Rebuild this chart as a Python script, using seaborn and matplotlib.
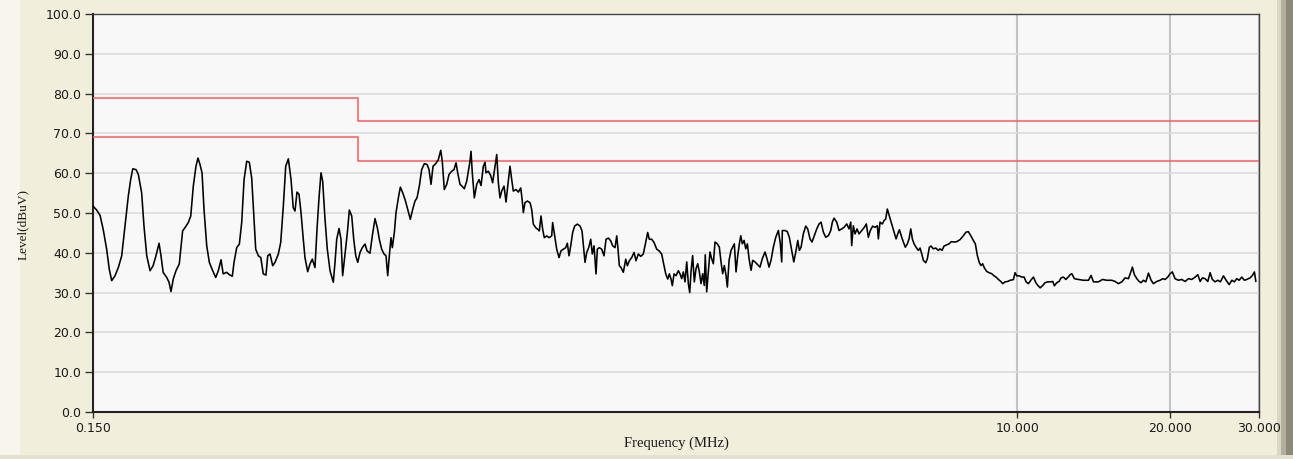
import matplotlib
matplotlib.use("Agg")
import matplotlib.pyplot as plt
import seaborn as sns
import pandas as pd
from matplotlib.patches import Rectangle

# ---------------- data ----------------
freq_mhz = [
    0.1500, 0.1525, 0.1549, 0.1571, 0.1596, 0.1615, 0.1633, 0.1658, 0.1683, 0.1709,
    0.1735, 0.1761, 0.1780, 0.1797, 0.1824, 0.1843, 0.1871, 0.1891, 0.1915, 0.1944,
    0.1971, 0.1997, 0.2025, 0.2043, 0.2063, 0.2097, 0.2119, 0.2138, 0.2160, 0.2187,
    0.2220, 0.2254, 0.2278, 0.2313, 0.2339, 0.2366, 0.2395, 0.2417, 0.2439, 0.2462,
    0.2484, 0.2515, 0.2545, 0.2584, 0.2620, 0.2651, 0.2684, 0.2710, 0.2754, 0.2787,
    0.2825, 0.2847, 0.2882, 0.2917, 0.2948, 0.2980, 0.3016, 0.3052, 0.3085, 0.3107,
    0.3142, 0.3180, 0.3215, 0.3252, 0.3292, 0.3318, 0.3353, 0.3394, 0.3430, 0.3482,
    0.3520, 0.3562, 0.3601,
    0.3644, 0.3689, 0.3726, 0.3756, 0.3790, 0.3825, 0.3860, 0.3900, 0.3930, 0.3979,
    0.4021, 0.4063, 0.4113, 0.4151, 0.4189, 0.4227, 0.4259, 0.4305, 0.4350, 0.4404,
    0.4470, 0.4505, 0.4540, 0.4588, 0.4629, 0.4664, 0.4715, 0.4765, 0.4808, 0.4860,
    0.4905, 0.4950, 0.4995, 0.5047, 0.5100, 0.5163, 0.5210, 0.5281, 0.5337, 0.5403,
    0.5460, 0.5510, 0.5569, 0.5629, 0.5680, 0.5724, 0.5766, 0.5810, 0.5845, 0.5899,
    0.5944, 0.6008, 0.6062, 0.6127, 0.6192, 0.6269, 0.6343, 0.6411, 0.6479, 0.6539,
    0.6608, 0.6679, 0.6760, 0.6844, 0.6906, 0.6969, 0.7032, 0.7119, 0.7204, 0.7283,
    0.7335, 0.7402, 0.7484, 0.7563, 0.7655, 0.7736, 0.7807, 0.7867, 0.7950, 0.8023,
    0.8107, 0.8196, 0.8256, 0.8319, 0.8357, 0.8406, 0.8484, 0.8577, 0.8668, 0.8746,
    0.8839, 0.8906,
    0.8947, 0.9042, 0.9141, 0.9221, 0.9309, 0.9394, 0.9463, 0.9535, 0.9608, 0.9710,
    0.9798, 0.9875, 0.9978, 1.0055, 1.0129, 1.0254, 1.0363, 1.0476, 1.0551, 1.0600,
    1.0681, 1.0795, 1.0927, 1.1011, 1.1093, 1.1214, 1.1316, 1.1399, 1.1487, 1.1573,
    1.1660, 1.1789, 1.1913, 1.2058, 1.2111, 1.2226, 1.2337, 1.2467, 1.2580, 1.2712,
    1.2852, 1.2946, 1.3047, 1.3148, 1.3264, 1.3389, 1.3548, 1.3714, 1.3840, 1.3947,
    1.4030, 1.4139, 1.4267, 1.4399, 1.4502, 1.4617, 1.4749, 1.4838, 1.4973, 1.5135,
    1.5296, 1.5435, 1.5599, 1.5770, 1.5908, 1.6079, 1.6205, 1.6300, 1.6398, 1.6524,
    1.6698, 1.6882, 1.7005, 1.7160, 1.7345, 1.7530, 1.7689, 1.7878, 1.8073, 1.8285,
    1.8486, 1.8654, 1.8791, 1.8994, 1.9198, 1.9435, 1.9639, 1.9878, 2.0027, 2.0248,
    2.0432, 2.0582, 2.0740, 2.0862, 2.1026, 2.1217, 2.1443, 2.1606,
    2.1771, 2.1931, 2.2099, 2.2272, 2.2437, 2.2579, 2.2710, 2.2881, 2.3055, 2.3234,
    2.3415, 2.3587, 2.3768, 2.3947, 2.4121, 2.4232, 2.4388, 2.4568, 2.4755, 2.4944,
    2.5135, 2.5328, 2.5597, 2.5830, 2.6029, 2.6224, 2.6425, 2.6630, 2.6790, 2.6998,
    2.7242, 2.7447, 2.7652, 2.7867, 2.8084, 2.8290, 2.8471, 2.8675, 2.8902, 2.9127,
    2.9340, 2.9567, 2.9834, 3.0059, 3.0374, 3.0750, 3.1072, 3.1397, 3.1787, 3.2080,
    3.2373, 3.2666, 3.3015, 3.3379, 3.3778, 3.4084, 3.4295, 3.4391, 3.4814, 3.5183,
    3.5504, 3.5887, 3.6226, 3.6558, 3.6890, 3.7161, 3.7446, 3.7833, 3.8248, 3.8596,
    3.9000, 3.9359, 3.9773, 4.0212, 4.0635, 4.1003, 4.1438, 4.1893, 4.2394, 4.2857,
    4.3163, 4.3499, 4.4036, 4.4499, 4.5041, 4.5518, 4.6080, 4.6565, 4.6928, 4.7131,
    4.7486, 4.7852, 4.8293, 4.8734, 4.9326, 4.9913, 5.0369, 5.0836, 5.1297, 5.1843,
    5.2403,
    5.2958, 5.3202, 5.3607, 5.4168, 5.4590, 5.5014, 5.5416, 5.5921, 5.6524, 5.7142,
    5.7659, 5.8109, 5.8535, 5.9167, 5.9603, 6.0145, 6.0698, 6.1169, 6.1645, 6.2085,
    6.2577, 6.3143, 6.3816, 6.4302, 6.4794, 6.5271, 6.5988, 6.6471, 6.7077, 6.7592,
    6.8306, 6.9056, 6.9881, 7.0413, 7.1061, 7.1708, 7.2593, 7.3357, 7.4128, 7.5044,
    7.5970, 7.7113, 7.8289, 7.9251, 8.0095, 8.0971, 8.1925, 8.2669, 8.3430, 8.4191,
    8.4837, 8.5475, 8.6125, 8.7076, 8.7992, 8.9062, 9.0022, 9.0838, 9.1806, 9.2809,
    9.3624, 9.4623, 9.5795, 9.6799, 9.8267, 9.9023, 9.9798, 10.099, 10.208, 10.317,
    10.411, 10.522, 10.637, 10.765, 10.883, 10.982, 11.097, 11.232, 11.352, 11.493,
    11.630, 11.754, 11.839, 11.970, 12.096, 12.205, 12.337, 12.473, 12.603, 12.718,
    12.815, 12.966, 13.206, 13.509, 13.821, 13.989, 14.140, 14.466, 14.729, 15.021,
    15.364, 15.601, 15.839, 16.082, 16.327, 16.576, 16.758, 16.877, 17.030, 17.218,
    17.399, 17.556, 17.745, 17.940, 18.154, 18.376, 18.566, 18.855, 19.139, 19.371,
    19.577, 19.819, 20.027, 20.236, 20.485, 20.797, 21.116, 21.443, 21.771, 22.104,
    22.442, 22.720, 22.958, 23.199, 23.482, 23.773, 24.022, 24.273, 24.572, 24.876,
    25.173, 25.526, 25.839, 26.196, 26.515, 26.827, 27.123, 27.409, 27.742, 28.075,
    28.384, 28.811, 29.113, 29.382, 29.572,
]

level_dbuv = [
    51.75, 50.75, 49.4, 45.9, 40.9, 35.9, 33.0, 34.25, 36.3, 39.25,
    46.75, 54.25, 58.4, 61.1, 60.9, 59.7, 55.1, 46.75, 39.25, 35.5,
    36.75, 39.25, 42.4, 39.25, 35.1, 33.8, 32.6, 30.25, 33.4, 35.5,
    37.2, 45.5, 46.3, 47.6, 49.25, 56.75, 61.75, 63.8, 62.2, 60.1,
    50.9, 41.75, 37.6, 35.5, 33.8, 35.5, 38.25, 34.7, 35.1, 34.5,
    34.1, 37.6, 41.3, 42.2, 47.6, 58.4, 63.0, 62.75, 58.8, 51.75,
    40.9, 39.25, 38.8, 34.7, 34.4, 39.25, 39.7, 36.75, 37.6, 39.7,
    42.6, 51.75, 61.75,
    63.6, 58.4, 51.3, 50.5, 55.25, 54.7, 50.1, 43.4, 38.8, 35.25,
    37.2, 38.4, 36.3, 45.9, 53.8, 60.1, 58.0, 48.4, 40.9, 35.5,
    32.6, 37.6, 43.4, 46.1, 43.4, 34.25, 39.7, 45.1, 50.75, 49.25,
    43.4, 39.25, 37.6, 40.1, 41.3, 42.2, 40.5, 39.9, 44.25, 48.6,
    46.3, 43.4, 40.9, 39.7, 39.25, 34.25, 39.25, 43.8, 41.3, 45.1,
    50.1, 53.8, 56.5, 55.1, 53.4, 50.9, 48.4, 50.9, 53.0, 53.8,
    56.75, 60.9, 62.4, 62.2, 60.9, 57.2, 61.75, 62.4, 63.4, 65.75,
    63.0, 55.9, 57.2, 59.7, 60.5, 60.9, 62.6, 60.1, 57.2, 56.75,
    56.1, 58.0, 60.5, 63.0, 65.5, 60.1, 53.8, 57.2, 58.4, 56.9,
    61.75, 62.75,
    60.1, 60.5, 59.4, 57.6, 61.3, 64.7, 57.6, 53.8, 55.5, 56.75,
    52.75, 56.75, 61.75, 58.4, 55.5, 55.9, 55.25, 56.3, 53.0, 50.1,
    52.6, 53.0, 52.6, 50.9, 47.2, 46.3, 45.9, 45.5, 49.25, 45.9,
    43.8, 44.25, 43.8, 44.25, 47.6, 44.25, 40.9, 38.8, 40.5, 40.9,
    41.3, 42.4, 39.25, 41.75, 45.1, 46.75, 47.2, 46.75, 45.5, 40.9,
    37.6, 40.1, 41.3, 43.4, 39.7, 41.75, 34.7, 40.9, 41.3, 40.9,
    39.25, 43.4, 43.7, 43.0, 41.75, 41.3, 44.25, 40.9, 36.75, 36.3,
    35.1, 38.4, 36.75, 38.0, 38.8, 40.1, 38.0, 39.7, 39.1, 39.7,
    42.6, 45.1, 43.4, 43.4, 42.6, 40.9, 40.5, 39.7, 37.6, 34.7,
    33.4, 34.7, 33.4, 31.75, 34.7, 34.25, 35.5, 34.7,
    33.5, 35.2, 32.7, 37.7, 32.25, 30.0, 35.2, 39.3, 32.7, 36.0,
    37.25, 35.2, 32.25, 34.75, 31.8, 39.5, 30.2, 35.2, 40.2, 38.5,
    37.25, 42.7, 42.25, 41.4, 37.7, 34.75, 36.8, 34.3, 31.4, 38.1,
    40.6, 41.4, 42.25, 35.2, 39.3, 42.25, 44.3, 42.25, 43.1, 41.0,
    42.25, 38.5, 35.6, 38.1, 37.7, 37.0, 36.4, 38.5, 40.2, 38.5,
    36.4, 38.1, 41.4, 43.9, 45.6, 42.25, 37.7, 45.6, 45.6, 45.3,
    43.9, 40.6, 37.7, 40.2, 43.1, 40.6, 41.4, 44.75, 46.7, 46.0,
    43.5, 42.7, 44.3, 46.0, 47.25, 47.7, 45.2, 43.9, 44.3, 45.6,
    47.7, 48.7, 47.7, 45.6, 46.0, 46.4, 47.25, 46.0, 47.7, 41.8,
    46.8, 44.75, 46.0, 44.75, 45.6, 46.4, 47.25, 43.9, 45.6, 46.7,
    46.4,
    46.8, 43.5, 47.7, 47.25, 48.1, 48.5, 51.0, 49.3, 47.25, 45.2,
    43.5, 44.75, 45.8, 43.9, 42.7, 41.4, 42.25, 43.5, 46.0, 43.5,
    42.25, 41.4, 40.6, 41.2, 39.75, 38.1, 37.5, 38.5, 41.4, 41.7,
    41.0, 41.2, 40.6, 41.0, 40.6, 41.7, 42.0, 42.25, 42.8, 42.7,
    42.8, 43.3, 44.3, 45.2, 45.3, 44.3, 43.1, 42.25, 39.3, 37.5,
    36.8, 37.25, 36.2, 35.3, 35.0, 34.75, 34.2, 33.9, 33.3, 32.8,
    32.25, 32.7, 32.8, 33.1, 33.25, 35.0, 34.2, 34.2, 33.9, 33.9,
    32.7, 32.25, 33.1, 33.9, 32.5, 31.8, 31.2, 31.8, 32.5, 32.7,
    32.7, 32.8, 31.7, 32.5, 32.8, 33.7, 33.9, 33.3, 33.9, 34.5,
    34.75, 33.5, 33.3, 33.1, 33.1, 34.3, 32.7, 32.7, 33.3, 33.1,
    33.1, 32.8, 32.25, 32.7, 33.7, 33.5, 35.2, 36.4, 34.5, 33.5,
    32.8, 32.5, 33.1, 32.7, 34.9, 33.1, 32.25, 32.8, 33.1, 33.5,
    33.3, 33.9, 34.75, 35.2, 33.5, 33.1, 33.3, 32.8, 33.5, 33.3,
    33.9, 34.5, 32.8, 33.7, 33.5, 32.8, 35.0, 33.3, 32.7, 33.1,
    32.7, 34.2, 33.1, 32.0, 33.1, 32.7, 33.5, 33.1, 33.9, 33.1,
    33.3, 33.7, 34.3, 35.2, 32.8,
]

limit_freq = [0.15, 0.5, 30.0]
limit_upper = [79.0, 73.0, 73.0]
limit_lower = [69.0, 63.0, 63.0]

y_ticks = [0, 10, 20, 30, 40, 50, 60, 70, 80, 90, 100]
y_tick_labels = ["0.0", "10.0", "20.0", "30.0", "40.0", "50.0",
                 "60.0", "70.0", "80.0", "90.0", "100.0"]
x_ticks = [0.15, 10.0, 20.0, 30.0]
x_tick_labels = ["0.150", "10.000", "20.000", "30.000"]

# ---------------- style ----------------
sns.set_theme(style="white")
plt.rcParams["font.family"] = ["DejaVu Sans"]

W, H = 1293, 459
fig = plt.figure(figsize=(W / 100, H / 100), dpi=100, facecolor="#F1EEDC")

# window frame decoration (behind everything)
frame = [
    ((0, 0), 20 / W, 1, "#F8F6EC"),
    ((1277 / W, 0), 4 / W, 1, "#DAD6C4"),
    ((1281 / W, 0), 5 / W, 1, "#B3AF9C"),
    ((1286 / W, 0), 7 / W, 1, "#8C8979"),
    ((0, 0), 1, 4 / H, "#E4E1D0"),
]
for xy, w, h, c in frame:
    fig.patches.append(Rectangle(xy, w, h, transform=fig.transFigure,
                                 facecolor=c, edgecolor="none", zorder=-10))

ax = fig.add_axes([93 / W, 1 - 412 / H, (1259 - 93) / W, (412 - 14) / H])
ax.set_zorder(5)
ax.set_facecolor("#F8F8F8")

trace = pd.DataFrame({"Frequency": freq_mhz, "Level": level_dbuv})
limits = pd.DataFrame({"Frequency": limit_freq, "Upper": limit_upper, "Lower": limit_lower})

sns.lineplot(data=limits, x="Frequency", y="Upper", ax=ax, color="#FF5A5A",
             linewidth=1.1, drawstyle="steps-post", sort=False, estimator=None, zorder=3)
sns.lineplot(data=limits, x="Frequency", y="Lower", ax=ax, color="#FF5A5A",
             linewidth=1.1, drawstyle="steps-post", sort=False, estimator=None, zorder=3)
sns.lineplot(data=trace, x="Frequency", y="Level", ax=ax, color="black",
             linewidth=1.15, sort=False, estimator=None, zorder=4)

ax.set_xscale("log")
ax.set_xlim(0.15, 30.0)
ax.set_ylim(0, 100)

ax.set_yticks(y_ticks)
ax.set_yticklabels(y_tick_labels)
ax.set_xticks(x_ticks)
ax.set_xticklabels(x_tick_labels)
ax.xaxis.set_minor_locator(matplotlib.ticker.NullLocator())

ax.grid(axis="y", color="#DCDCDC", linewidth=1.2, zorder=1)
ax.grid(axis="x", color="#C4C4C4", linewidth=1.5, zorder=1)
ax.set_axisbelow(True)

ax.tick_params(axis="y", direction="out", length=6, width=1.0, pad=2.5,
               color="#333333", labelsize=9, labelcolor="#1A1A1A", left=True)
ax.tick_params(axis="x", direction="out", length=4, width=1.0, pad=3,
               color="#333333", labelsize=9, labelcolor="#1A1A1A", bottom=True)

for side in ["left", "bottom"]:
    ax.spines[side].set_color("#222222")
    ax.spines[side].set_linewidth(1.5)
for side in ["top", "right"]:
    ax.spines[side].set_color("#444444")
    ax.spines[side].set_linewidth(1.0)

ax.set_xlabel("Frequency (MHz)", family="Liberation Serif", fontsize=10.5, color="#1A1A1A")
ax.set_ylabel("Level(dBuV)", family="Liberation Serif", fontsize=9.5, color="#1A1A1A")
ax.xaxis.set_label_coords(0.5, -0.062)
ax.yaxis.set_label_coords(-0.055, 0.47)

fig.savefig("out.png", dpi=100, facecolor=fig.get_facecolor())
